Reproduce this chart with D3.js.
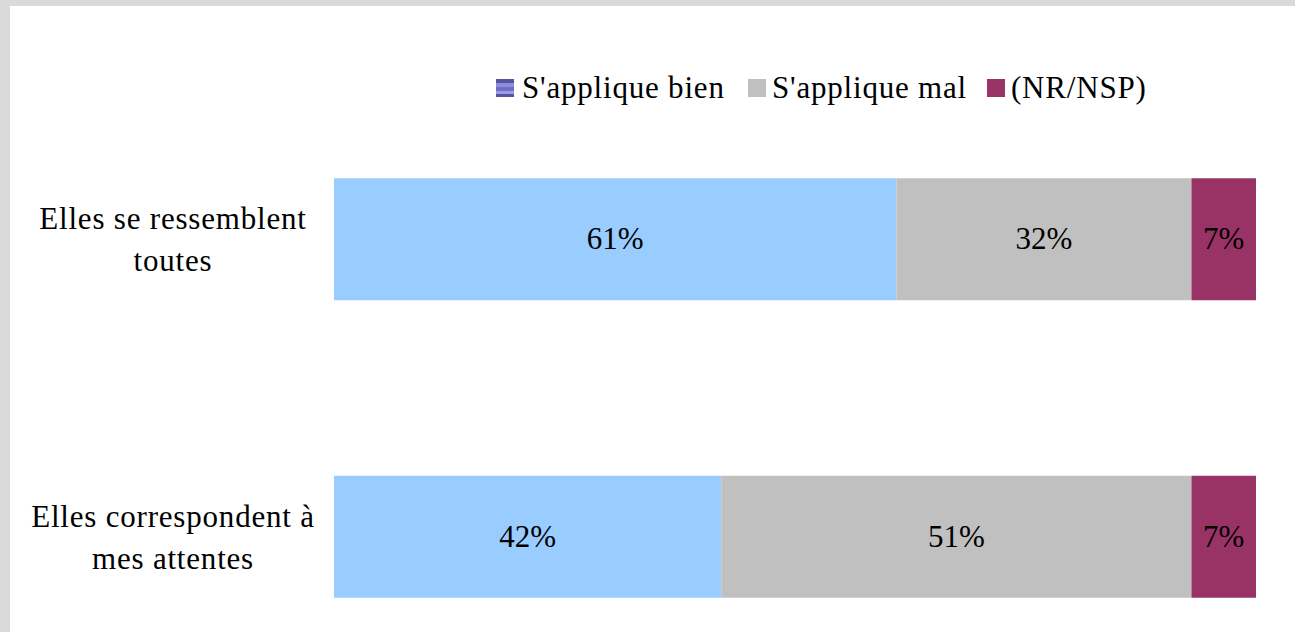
<!DOCTYPE html>
<html>
<head>
<meta charset="utf-8">
<script src="https://cdn.jsdelivr.net/npm/d3@7"></script>
<style>
  body { margin: 0; background: #fff; }
  svg text { font-family: "Liberation Serif", serif; fill: #000; }
</style>
</head>
<body>
<div id="chart"></div>
<script>
  'use strict';

  // data
  var categories = [
    ['Elles se ressemblent', 'toutes'],
    ['Elles correspondent à', 'mes attentes']
  ];
  var seriesNames = ["S'applique bien", "S'applique mal", '(NR/NSP)'];
  var bien = [61, 42];
  var mal = [32, 51];
  var nrnsp = [7, 7];

  var colors = ['#99ccff', '#c0c0c0', '#993366'];

  var W = 1295, H = 632;
  var svg = d3.select('#chart').append('svg')
    .attr('width', W).attr('height', H);

  // frame
  svg.append('rect').attr('width', W).attr('height', H).attr('fill', '#d9dad9');
  svg.append('rect').attr('x', 10).attr('y', 6).attr('width', W - 10).attr('height', H - 6).attr('fill', '#fff');

  var defs = svg.append('defs');
  var grad = defs.append('linearGradient').attr('id', 'stripes')
    .attr('x1', 0).attr('y1', 0).attr('x2', 0).attr('y2', 1);
  [['0%', '#55559a'], ['20%', '#55559a'], ['20%', '#8c8ce0'], ['45%', '#8c8ce0'],
   ['45%', '#6f6fc4'], ['65%', '#6f6fc4'], ['65%', '#9b9bea'], ['82%', '#9b9bea'],
   ['82%', '#55559a'], ['100%', '#55559a']].forEach(function(s) {
    grad.append('stop').attr('offset', s[0]).attr('stop-color', s[1]);
  });

  var x = d3.scaleLinear().domain([0, 100]).range([334, 1256]);
  var y = d3.scaleBand().domain(d3.range(categories.length)).range([89, 687])
    .paddingInner(0.59).paddingOuter(0.3);

  var rows = categories.map(function(c, i) {
    return { i: i, values: [bien[i], mal[i], nrnsp[i]] };
  });

  var stack = d3.stack().keys([0, 1, 2]).value(function(d, k) { return d.values[k]; });
  var layers = stack(rows);

  var g = svg.append('g');
  layers.forEach(function(layer, k) {
    var lg = g.append('g');
    lg.selectAll('rect').data(layer).enter().append('rect')
      .attr('x', function(d) { return x(d[0]); })
      .attr('y', function(d) { return y(d.data.i); })
      .attr('width', function(d) { return x(d[1]) - x(d[0]); })
      .attr('height', y.bandwidth())
      .attr('fill', colors[k]);
    lg.selectAll('text').data(layer).enter().append('text')
      .attr('x', function(d) { return (x(d[0]) + x(d[1])) / 2; })
      .attr('y', function(d) { return y(d.data.i) + y.bandwidth() / 2 + 10; })
      .attr('text-anchor', 'middle')
      .style('font-size', '31px')
      .text(function(d) { return (d[1] - d[0]) + '%'; });
  });

  // category labels
  var cat = svg.append('g');
  categories.forEach(function(lines, i) {
    var t = cat.append('text')
      .attr('text-anchor', 'middle')
      .style('font-size', '31px')
      .style('letter-spacing', '0.8px');
    lines.forEach(function(line, j) {
      t.append('tspan')
        .attr('x', 173)
        .attr('y', y(i) + y.bandwidth() / 2 - 10 + j * 42)
        .text(line);
    });
  });

  // legend
  var legX = [496, 748, 987];
  var legend = svg.append('g');
  seriesNames.forEach(function(name, k) {
    legend.append('rect')
      .attr('x', legX[k]).attr('y', 79)
      .attr('width', 18).attr('height', 18)
      .attr('fill', k === 0 ? 'url(#stripes)' : colors[k]);
    legend.append('text')
      .attr('x', legX[k] + (k === 0 ? 26 : 24)).attr('y', 98)
      .style('font-size', '31px')
      .style('letter-spacing', '0.8px')
      .text(name);
  });
</script>
</body>
</html>
